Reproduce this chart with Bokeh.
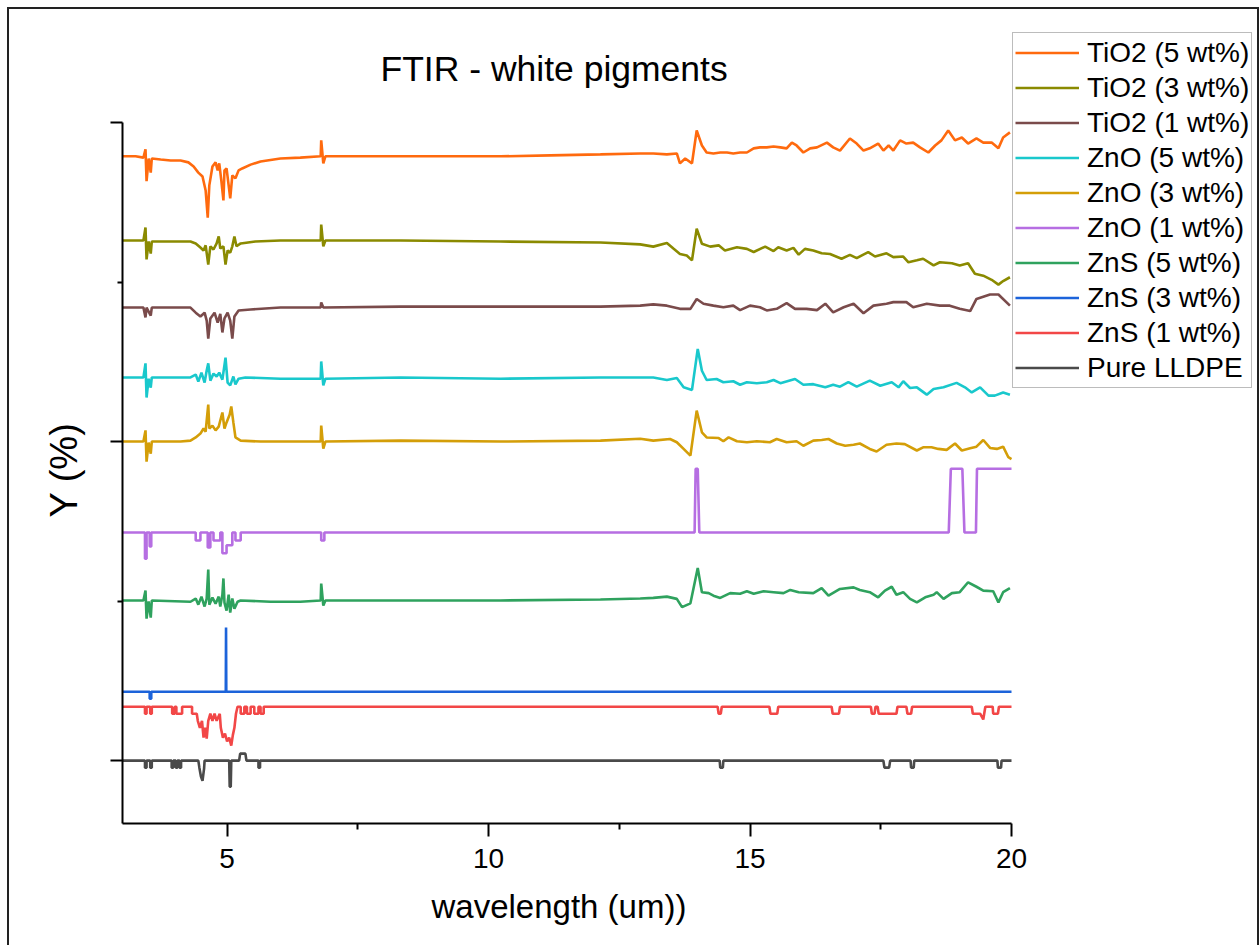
from bokeh.plotting import figure
from bokeh.models import Range1d, FixedTicker, Legend, LegendItem, InlineStyleSheet, Label, Title
from bokeh.embed import file_html
from bokeh.resources import INLINE

# ---------------- data (wavelength in um, Y in % with stacking offsets) ----------------
title_text = "FTIR - white pigments"
x_label = "wavelength (um))"
y_label = "Y (%)"
labels = ["TiO2 (5 wt%)", "TiO2 (3 wt%)", "TiO2 (1 wt%)", "ZnO (5 wt%)", "ZnO (3 wt%)",
          "ZnO (1 wt%)", "ZnS (5 wt%)", "ZnS (3 wt%)", "ZnS (1 wt%)", "Pure LLDPE"]
colors = ["#FF6A0E", "#8A8A00", "#7A4B4B", "#19C8CC", "#D49E08",
          "#B66EE2", "#2FA25E", "#1C63DA", "#F24747", "#4A4A4A"]

x_ticks = [5, 10, 15, 20]
x_minor = [7.5, 12.5, 17.5]
y_ticks = [0, 100, 200]
y_minor = [50, 150]
x_bounds = (3, 20)
y_bounds = (-19.7, 200)

tio2_5 = [(3.00,189.4),(3.25,189.4),(3.40,189.0),(3.44,191.6),(3.46,181.6),(3.50,188.7),(3.54,184.3),
          (3.56,188.7),(3.73,188.4),(3.92,188.1),(4.11,188.1),(4.26,187.5),(4.36,186.2),(4.45,184.3),
          (4.53,183.1),(4.59,178.7),(4.63,170.2),(4.66,180.3),(4.72,186.2),(4.78,187.5),(4.82,185.0),
          (4.85,187.2),(4.89,181.8),(4.93,175.6),(4.95,185.0),(4.99,185.6),(5.03,180.3),(5.06,176.2),
          (5.10,183.4),(5.16,182.5),(5.22,185.0),(5.29,185.6),(5.45,186.8),(5.64,187.8),(6.02,188.7),
          (6.40,189.0),(6.79,189.4),(6.80,194.4),(6.84,187.2),(6.88,189.4),(7.55,189.4),(8.32,189.4),
          (9.27,189.4),(10.23,189.4),(11.18,189.7),(12.14,190.0),(12.90,190.3),
          (13.15,190.3),(13.41,190.0),(13.60,190.3),(13.66,187.2),(13.76,188.7),(13.89,187.2),
          (13.98,197.5),(14.08,192.8),(14.17,190.6),(14.30,190.3),(14.43,190.6),(14.56,190.6),
          (14.68,190.3),(14.81,190.6),(14.94,190.6),(15.07,191.9),(15.19,192.2),(15.32,192.2),
          (15.45,192.5),(15.58,192.2),(15.70,191.9),(15.80,193.7),(15.89,192.8),(16.02,190.6),
          (16.15,191.9),(16.28,192.2),(16.47,193.7),(16.59,192.2),(16.72,191.2),(16.91,195.0),
          (17.04,193.4),(17.17,191.2),(17.29,191.9),(17.45,193.4),(17.55,191.2),(17.65,192.8),
          (17.74,191.2),(17.87,194.4),(17.99,193.4),(18.12,193.7),(18.25,192.2),(18.41,190.6),
          (18.54,192.8),(18.66,194.4),(18.79,197.5),(18.92,194.4),(19.05,195.3),(19.17,193.4),
          (19.33,195.0),(19.46,193.7),(19.62,193.7),(19.75,191.9),(19.84,195.3),(19.97,196.9)]

tio2_3 = [(3.00,163.0),(3.40,163.0),(3.44,167.1),(3.46,157.1),(3.50,162.7),(3.54,158.9),(3.56,162.7),
          (3.92,162.7),(4.30,162.7),(4.40,162.1),(4.49,160.8),(4.55,159.9),(4.59,161.5),(4.64,155.5),
          (4.68,161.2),(4.74,160.2),(4.80,162.1),(4.84,164.3),(4.87,160.5),(4.93,161.2),(4.97,155.5),
          (5.01,159.9),(5.06,159.2),(5.10,161.2),(5.14,164.3),(5.18,161.2),(5.26,162.1),(5.54,162.7),
          (6.02,163.0),(6.79,163.0),(6.80,168.0),(6.84,161.2),(6.88,163.0),(8.32,163.0),(10.23,162.7),
          (12.14,162.4),(12.90,161.8),
          (13.15,161.1),(13.41,162.2),(13.54,160.4),(13.66,158.8),(13.79,158.3),(13.89,156.8),
          (13.98,166.7),(14.08,162.0),(14.24,161.1),(14.40,161.5),(14.52,159.9),(14.75,160.9),
          (14.94,160.4),(15.07,159.4),(15.29,161.1),(15.45,159.7),(15.54,160.9),(15.70,159.9),
          (15.83,160.7),(15.93,158.6),(16.05,160.4),(16.21,159.9),(16.37,159.0),(16.53,158.8),
          (16.75,157.3),(16.91,158.5),(17.04,157.5),(17.26,159.4),(17.39,158.0),(17.61,159.0),
          (17.74,157.8),(17.93,158.0),(18.03,156.2),(18.19,156.8),(18.31,157.3),(18.51,155.2),
          (18.63,156.2),(18.86,155.9),(19.01,155.2),(19.17,155.9),(19.30,152.6),(19.46,152.0),
          (19.62,150.7),(19.75,149.2),(19.84,150.3),(19.97,151.5)]

tio2_1 = [(3.00,142.0),(3.40,142.0),(3.44,138.9),(3.46,142.0),(3.54,139.5),(3.56,142.0),(4.30,142.0),
          (4.40,140.4),(4.49,139.2),(4.57,140.4),(4.61,137.9),(4.64,132.3),(4.68,138.6),(4.76,140.4),
          (4.82,137.3),(4.87,140.0),(4.91,134.2),(4.95,138.6),(5.01,140.4),(5.06,137.9),(5.10,132.3),
          (5.14,139.2),(5.22,141.1),(5.45,141.4),(6.02,142.0),(6.79,142.0),(6.80,143.6),(6.84,142.0),
          (8.32,142.3),(10.23,142.3),(12.14,142.3),(12.90,142.6),
          (13.15,143.0),(13.41,142.6),(13.66,141.6),(13.86,141.6),(13.98,144.7),(14.11,143.2),
          (14.30,142.6),(14.49,142.1),(14.68,142.6),(14.81,141.2),(15.00,142.6),(15.19,142.1),
          (15.32,141.1),(15.51,141.6),(15.70,143.4),(15.86,141.6),(16.08,141.6),(16.28,141.2),
          (16.44,143.2),(16.59,140.5),(16.79,142.1),(16.98,143.2),(17.17,140.2),(17.36,142.6),
          (17.61,143.2),(17.74,143.7),(17.99,143.7),(18.12,142.1),(18.38,143.2),(18.63,142.6),
          (18.82,142.6),(19.01,141.6),(19.21,140.9),(19.33,144.7),(19.59,146.1),(19.75,146.1),
          (19.97,142.6)]

zno_5 = [(3.00,120.1),(3.40,120.1),(3.44,124.5),(3.46,113.8),(3.50,119.7),(3.54,116.9),(3.56,120.1),
         (4.30,120.1),(4.40,121.0),(4.45,118.8),(4.51,121.6),(4.57,118.5),(4.61,122.3),(4.64,124.5),
         (4.68,119.1),(4.74,121.3),(4.80,120.4),(4.85,121.6),(4.91,119.4),(4.97,126.3),(5.01,118.5),
         (5.06,117.6),(5.12,120.4),(5.16,117.9),(5.22,119.7),(5.35,120.1),(6.02,119.7),(6.79,119.7),
         (6.80,125.1),(6.84,117.6),(6.88,119.7),(8.32,120.1),(10.23,119.7),(12.14,120.1),(12.90,120.1),
         (13.15,120.1),(13.41,119.3),(13.60,119.9),(13.73,117.0),(13.89,116.2),(14.00,129.0),
         (14.08,122.2),(14.17,119.3),(14.36,119.6),(14.49,118.6),(14.68,118.9),(14.81,117.8),
         (14.94,118.6),(15.13,118.3),(15.32,118.6),(15.45,119.3),(15.58,118.3),(15.86,119.6),
         (16.02,117.8),(16.21,118.0),(16.44,117.0),(16.59,117.8),(16.72,117.2),(16.88,118.6),
         (17.04,117.2),(17.29,119.1),(17.49,117.5),(17.71,118.6),(17.84,117.0),(17.93,118.9),
         (18.06,116.8),(18.19,117.0),(18.38,114.7),(18.51,116.5),(18.70,117.0),(18.95,118.4),
         (19.11,117.0),(19.24,115.4),(19.40,117.0),(19.56,114.4),(19.68,114.4),(19.84,115.4),
         (19.97,114.7)]

zno_3 = [(3.00,100.0),(3.40,100.0),(3.44,103.5),(3.46,93.7),(3.50,99.7),(3.54,96.2),(3.56,100.0),
         (4.11,100.0),(4.30,100.3),(4.40,101.3),(4.49,102.5),(4.55,104.1),(4.59,103.1),(4.61,106.6),
         (4.64,111.6),(4.66,104.1),(4.72,105.0),(4.78,103.5),(4.84,104.7),(4.87,106.6),(4.91,109.1),
         (4.95,104.1),(4.99,106.0),(5.05,108.5),(5.08,111.0),(5.12,106.0),(5.16,101.3),(5.26,100.3),
         (5.64,100.0),(6.02,100.0),(6.79,100.0),(6.80,105.0),(6.84,97.8),(6.88,100.0),(8.32,100.3),
         (10.23,100.0),(12.14,100.3),(12.90,100.9),
         (13.15,100.3),(13.47,100.8),(13.60,99.8),(13.73,97.7),(13.86,95.6),(13.98,109.7),
         (14.08,102.9),(14.17,101.3),(14.40,101.1),(14.49,100.1),(14.59,101.3),(14.75,100.1),
         (14.94,99.8),(15.13,100.1),(15.38,99.8),(15.51,100.8),(15.70,99.8),(15.89,100.1),
         (16.02,98.7),(16.21,100.3),(16.37,100.5),(16.50,100.8),(16.66,99.4),(16.82,98.7),
         (16.98,99.0),(17.10,99.4),(17.29,97.7),(17.42,96.9),(17.61,99.0),(17.80,99.4),
         (17.96,99.2),(18.19,97.2),(18.31,98.2),(18.47,98.2),(18.60,97.7),(18.76,97.4),
         (18.92,99.4),(19.05,97.2),(19.21,97.9),(19.33,98.4),(19.46,100.5),(19.59,98.0),
         (19.72,97.7),(19.84,98.4),(19.94,95.1),(20.00,94.5)]

zno_1 = [(3.00,71.5),(3.43,71.5),(3.43,63.3),(3.46,63.3),(3.46,71.5),(3.52,71.5),(3.52,67.1),
         (3.55,67.1),(3.55,71.5),(4.40,71.5),(4.40,69.0),(4.49,69.0),(4.49,71.5),(4.63,71.5),
         (4.63,66.8),(4.68,66.8),(4.68,71.5),(4.74,71.5),(4.74,69.0),(4.87,69.0),(4.87,71.5),
         (4.91,71.5),(4.91,65.0),(4.99,65.0),(4.99,67.5),(5.10,67.5),(5.10,71.5),(5.16,71.5),
         (5.16,69.0),(5.26,69.0),(5.26,71.5),(6.80,71.5),(6.80,69.0),(6.86,69.0),(6.86,71.5),
         (13.94,71.5),(13.96,91.5),(14.00,91.5),(14.03,71.5),(18.80,71.5),(18.84,91.5),
         (19.06,91.5),(19.10,71.5),(19.32,71.5),(19.34,91.5),(20.00,91.5)]

zns_5 = [(3.00,50.2),(3.40,50.2),(3.44,53.3),(3.46,44.5),(3.50,49.9),(3.54,44.8),(3.56,50.2),
         (4.30,49.8),(4.40,50.8),(4.45,48.9),(4.51,51.4),(4.57,48.3),(4.61,50.8),(4.64,59.9),
         (4.66,48.9),(4.72,51.1),(4.78,49.2),(4.84,51.4),(4.87,48.3),(4.91,52.0),(4.93,57.1),
         (4.95,49.5),(4.99,47.0),(5.03,52.0),(5.06,46.4),(5.10,50.8),(5.14,47.6),(5.20,49.8),
         (5.26,50.2),(5.83,49.8),(6.40,49.8),(6.79,50.2),(6.80,55.5),(6.84,48.6),(6.88,50.2),
         (8.32,50.2),(10.23,50.2),(12.14,50.5),(12.90,50.8),
         (13.15,51.0),(13.41,51.4),(13.60,50.7),(13.70,48.1),(13.86,49.3),(14.00,60.4),
         (14.08,52.8),(14.21,52.5),(14.30,51.7),(14.43,51.0),(14.62,52.5),(14.81,52.3),
         (14.94,53.1),(15.07,52.3),(15.26,53.1),(15.45,52.8),(15.64,52.5),(15.77,53.5),
         (15.93,52.8),(16.21,52.5),(16.37,54.1),(16.50,51.7),(16.72,53.8),(16.98,54.3),
         (17.10,53.5),(17.29,52.8),(17.45,51.2),(17.58,53.3),(17.71,54.5),(17.80,52.0),
         (17.93,52.8),(18.06,50.7),(18.19,49.6),(18.35,51.2),(18.51,52.0),(18.57,52.8),
         (18.70,50.7),(18.86,52.5),(19.01,52.8),(19.17,55.9),(19.33,54.5),(19.46,53.3),
         (19.65,53.1),(19.75,49.6),(19.84,52.8),(19.97,54.1)]

zns_3 = [(3.00,21.6),(3.52,21.6),(3.52,19.4),(3.55,19.4),(3.55,21.6),(4.975,21.6),(4.98,41.7),
         (4.985,21.6),(20.00,21.6)]

zns_1 = [(3.00,16.9),(3.43,16.9),(3.43,14.7),(3.46,14.7),(3.46,16.9),(3.53,16.9),(3.53,14.7),
         (3.56,14.7),(3.56,16.9),(3.95,16.9),(3.95,14.7),(4.00,14.7),(4.00,16.9),(4.03,16.9),
         (4.03,14.7),(4.14,14.7),(4.14,16.9),(4.33,16.9),(4.33,14.7),(4.42,14.7),(4.44,12.5),
         (4.48,10.3),(4.52,12.5),(4.55,7.2),(4.58,10.3),(4.61,6.9),(4.64,12.5),(4.68,14.7),
         (4.72,12.5),(4.76,14.7),(4.80,12.5),(4.86,14.7),(4.88,10.3),(4.92,7.2),(4.96,8.5),
         (5.00,6.0),(5.04,7.2),(5.08,4.7),(5.11,8.0),(5.14,10.3),(5.17,14.7),(5.20,16.9),
         (5.26,16.9),(5.26,14.7),(5.33,14.7),(5.33,16.9),(5.38,16.9),(5.38,14.7),(5.45,14.7),
         (5.45,16.9),(5.52,16.9),(5.52,14.7),(5.60,14.7),(5.60,16.9),(5.64,16.9),(5.64,14.7),
         (5.70,14.7),(5.70,16.9),
         (14.38,16.9),(14.40,14.7),(14.44,14.7),(14.46,16.9),(15.37,16.9),(15.39,14.7),
         (15.52,14.7),(15.54,16.9),(16.56,16.9),(16.58,14.7),(16.70,14.7),(16.72,16.9),
         (17.31,16.9),(17.33,14.7),(17.38,14.7),(17.40,16.9),(17.44,16.9),(17.46,14.7),
         (17.80,14.7),(17.82,16.9),(17.99,16.9),(18.01,14.7),(18.08,14.7),(18.10,16.9),
         (19.24,16.9),(19.26,14.7),(19.40,14.7),(19.46,12.9),(19.50,16.9),(19.64,16.9),
         (19.65,14.7),(19.74,14.7),(19.76,16.9),(20.00,16.9)]

lldpe = [(3.00,0.0),(3.43,0.0),(3.43,-2.2),(3.46,-2.2),(3.46,0.0),(3.53,0.0),(3.53,-2.2),(3.56,-2.2),
         (3.56,0.0),(3.94,0.0),(3.94,-2.2),(3.97,-2.2),(3.97,0.0),(4.02,0.0),(4.02,-2.2),(4.05,-2.2),
         (4.05,0.0),(4.09,0.0),(4.09,-2.2),(4.12,-2.2),(4.12,0.0),(4.45,0.0),(4.47,-2.2),(4.50,-5.0),
         (4.53,-6.3),(4.56,-2.5),(4.57,0.0),(5.04,0.0),(5.05,-8.2),(5.07,-8.2),(5.08,0.0),(5.23,0.0),
         (5.25,2.2),(5.35,2.2),(5.37,0.0),(5.60,0.0),(5.60,-2.2),(5.63,-2.2),(5.63,0.0),
         (14.42,0.0),(14.43,-2.2),(14.48,-2.2),(14.49,0.0),(17.55,0.0),(17.57,-2.2),(17.66,-2.2),
         (17.68,0.0),(18.07,0.0),(18.08,-2.2),(18.13,-2.2),(18.14,0.0),(19.73,0.0),(19.74,-2.2),
         (19.80,-2.2),(19.81,0.0),(20.00,0.0)]

series = [tio2_5, tio2_3, tio2_1, zno_5, zno_3, zno_1, zns_5, zns_3, zns_1, lldpe]

# ---------------- layout geometry ----------------
W, H = 1259, 945
LEFT, BOTTOM = 122, 122                 # frame starts at x=122 and ends at y=823
AXIS_LEN_X, AXIS_LEN_Y = 889, 701       # pixel length of the drawn axes
frame_w = W - LEFT
frame_h = H - BOTTOM
x_per_px = (x_bounds[1] - x_bounds[0]) / AXIS_LEN_X
y_per_px = (y_bounds[1] - y_bounds[0]) / AXIS_LEN_Y
x_end = x_bounds[0] + frame_w * x_per_px
y_end = y_bounds[0] + frame_h * y_per_px

FONT = "Liberation Sans"
page_border = InlineStyleSheet(css="""
:host { position: relative; }
:host::after {
  content: ""; position: absolute; left: 7px; top: 7px; right: 0px; bottom: 0px;
  border: 2px solid #222222; border-bottom: none; pointer-events: none; z-index: 10;
}
""")

p = figure(width=W, height=H, x_range=Range1d(x_bounds[0], x_end), y_range=Range1d(y_bounds[0], y_end),
           output_backend="svg", toolbar_location=None, title=None,
           min_border_left=LEFT, min_border_right=0, min_border_top=0, min_border_bottom=BOTTOM,
           background_fill_color="white", border_fill_color="white")
p.stylesheets = [page_border]
p.xgrid.visible = False
p.ygrid.visible = False
p.outline_line_color = None

# x axis
xa = p.xaxis[0]
xa.bounds = x_bounds
xa.ticker = FixedTicker(ticks=x_ticks, minor_ticks=x_minor)
xa.major_label_text_font = FONT
xa.major_label_text_font_size = "28px"
xa.major_label_text_color = "black"
xa.major_label_standoff = 12
xa.axis_line_width = 2
xa.major_tick_line_width = 2
xa.minor_tick_line_width = 2
xa.major_tick_out = 13
xa.major_tick_in = 0
xa.minor_tick_out = 6
xa.minor_tick_in = 0

# y axis
ya = p.yaxis[0]
ya.bounds = y_bounds
ya.ticker = FixedTicker(ticks=y_ticks, minor_ticks=y_minor)
ya.major_label_overrides = {t: "" for t in y_ticks}
ya.major_label_text_font_size = "12px"
ya.major_label_standoff = 0
ya.axis_line_width = 2
ya.major_tick_line_width = 2
ya.minor_tick_line_width = 2
ya.major_tick_out = 12
ya.major_tick_in = 0
ya.minor_tick_out = 5
ya.minor_tick_in = 0

# axis titles, centred on the drawn axes (not on the extended frame)
xt = Title(text=x_label, align="left", offset=309, standoff=31,
           text_font=FONT, text_font_size="33px", text_font_style="normal", text_color="black")
p.add_layout(xt, "below")
yt = Title(text=y_label, align="left", offset=306, standoff=51,
           text_font=FONT, text_font_size="38px", text_font_style="normal", text_color="black")
p.add_layout(yt, "left")

items = []
for lab, col, pts in zip(labels, colors, series):
    xs = [a for a, b in pts]
    ys = [b for a, b in pts]
    r = p.line(xs, ys, line_color=col, line_width=2.6)
    items.append(LegendItem(label=lab, renderers=[r]))

# chart title (inside the extended frame, above the axes)
title = Label(x=x_bounds[0] + 258 * x_per_px, y=y_bounds[1] + 54 * y_per_px, text=title_text,
              text_font=FONT, text_font_size="35.5px", text_color="black",
              text_align="left", text_baseline="alphabetic")
p.add_layout(title)

legend = Legend(items=items, location=(890, 435))
legend.label_text_font = FONT
legend.label_text_font_size = "28px"
legend.label_text_color = "black"
legend.padding = 2
legend.spacing = 0
legend.margin = 0
legend.glyph_width = 64
legend.glyph_height = 35
legend.label_height = 35
legend.label_standoff = 8
legend.border_line_color = "#7a7a7a"
legend.border_line_width = 1
legend.background_fill_color = "white"
legend.background_fill_alpha = 1
p.add_layout(legend)

open("out.html", "w").write(file_html(p, INLINE))
